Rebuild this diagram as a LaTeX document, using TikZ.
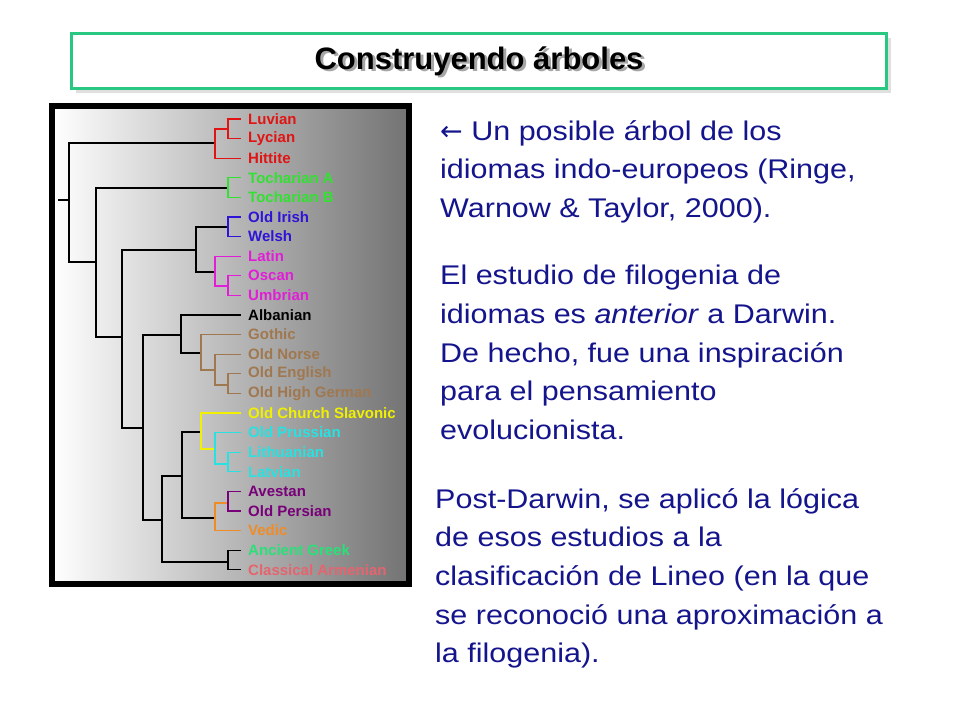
\documentclass[tikz,border=0pt]{standalone}
\usepackage{fontspec}
\setmainfont{Liberation Sans}
\newfontfamily\parafont[FakeStretch=1.13]{Liberation Sans}
\newfontfamily\symfont{DejaVu Sans}
\usetikzlibrary{shadows}

\definecolor{lred}{RGB}{225,20,20}
\definecolor{lgreen}{RGB}{50,225,50}
\definecolor{lblue}{RGB}{45,20,215}
\definecolor{lmag}{RGB}{225,30,215}
\definecolor{lbrown}{RGB}{160,120,80}
\definecolor{lyellow}{RGB}{240,240,0}
\definecolor{lcyan}{RGB}{40,225,225}
\definecolor{lpurple}{RGB}{120,0,120}
\definecolor{lorange}{RGB}{240,140,40}
\definecolor{lsea}{RGB}{40,225,120}
\definecolor{lpink}{RGB}{230,100,110}
\definecolor{titlegreen}{RGB}{40,200,130}
\definecolor{bodyblue}{RGB}{20,20,140}

\tikzset{
  leaf/.style={anchor=west,inner sep=0pt,font=\fontsize{15}{15}\selectfont\bfseries},
  branch/.style={line width=1.2pt},
  para/.style={anchor=north west,align=left,text=bodyblue,inner sep=0pt,
    font=\parafont\fontsize{27}{38.7}\selectfont}
}

\begin{document}
\begin{tikzpicture}[x=1pt,y=-1pt]
  \useasboundingbox (0,0) rectangle (960,720);

  % title box
  \node (title) [draw=titlegreen,line width=2.5pt,fill=white,minimum width=815,minimum height=55,
    drop shadow={shadow xshift=4pt,shadow yshift=-4pt,fill=black!25}] at (479,61) {};
  \node [text=black!35,font=\fontsize{31}{31}\selectfont\bfseries] at (482,63) {Construyendo árboles};
  \node [font=\fontsize{31}{31}\selectfont\bfseries] at (title) {Construyendo árboles};

  % tree panel
  \shade [left color=white,right color=black!55] (52,106) rectangle (409,584);
  \draw [line width=6pt] (52,106) rectangle (409,584);

  % leaves
  \foreach \name/\txt/\col [count=\i from 0] in {
      luv/Luvian/lred, lyc/Lycian/lred, hit/Hittite/lred,
      tca/Tocharian A/lgreen, tcb/Tocharian B/lgreen,
      oir/Old Irish/lblue, wel/Welsh/lblue,
      lat/Latin/lmag, osc/Oscan/lmag, umb/Umbrian/lmag,
      alb/Albanian/black, got/Gothic/lbrown, onr/Old Norse/lbrown,
      oen/Old English/lbrown, ohg/Old High German/lbrown,
      ocs/Old Church Slavonic/lyellow, opr/Old Prussian/lcyan,
      lit/Lithuanian/lcyan, lav/Latvian/lcyan,
      ave/Avestan/lpurple, ope/Old Persian/lpurple, ved/Vedic/lorange,
      agr/Ancient Greek/lsea, arm/Classical Armenian/lpink}
    \node (\name) [leaf,text=\col] at (248,119+19.6*\i) {\txt};

  % inner nodes
  \coordinate (root) at (69,200);   \coordinate (stub) at (58,200);
  \coordinate (anat) at (215,143);  \coordinate (lulyc) at (228,129);
  \coordinate (n2) at (96,262);     \coordinate (toch) at (228,188);
  \coordinate (n3) at (122,337);    \coordinate (ic) at (196,250);
  \coordinate (celt) at (228,227);  \coordinate (ital) at (215,272);
  \coordinate (osum) at (228,286);  \coordinate (n4) at (143,428);
  \coordinate (albg) at (181,335);  \coordinate (germ) at (201,353);
  \coordinate (neh) at (215,370);   \coordinate (eh) at (228,385);
  \coordinate (n5) at (162,520);    \coordinate (bsii) at (182,476);
  \coordinate (bs) at (201,432);    \coordinate (balt) at (215,449);
  \coordinate (ll) at (228,464);    \coordinate (ii) at (215,518);
  \coordinate (ir) at (228,503);    \coordinate (ga) at (228,562);

  \begin{scope}[branch]
    \draw (stub) -- (root);
    \draw (root) |- (anat); \draw (root) |- (n2);
    \draw (n2) |- (toch); \draw (n2) |- (n3);
    \draw (n3) |- (ic); \draw (n3) |- (n4);
    \draw (ic) |- (celt); \draw (ic) |- (ital);
    \draw (n4) |- (albg); \draw (n4) |- (n5);
    \draw (albg) |- ([xshift=-7pt]alb.west); \draw (albg) |- (germ);
    \draw (n5) |- (bsii); \draw (n5) |- (ga);
    \draw (bsii) |- (bs); \draw (bsii) |- (ii);
    \draw (ga) |- ([xshift=-7pt]agr.west); \draw (ga) |- ([xshift=-7pt]arm.west);
    \draw [lred] (anat) |- (lulyc); \draw [lred] (anat) |- ([xshift=-7pt]hit.west);
    \draw [lred] (lulyc) |- ([xshift=-7pt]luv.west); \draw [lred] (lulyc) |- ([xshift=-7pt]lyc.west);
    \draw [lgreen] (toch) |- ([xshift=-7pt]tca.west); \draw [lgreen] (toch) |- ([xshift=-7pt]tcb.west);
    \draw [lblue] (celt) |- ([xshift=-7pt]oir.west); \draw [lblue] (celt) |- ([xshift=-7pt]wel.west);
    \draw [lmag] (ital) |- ([xshift=-7pt]lat.west); \draw [lmag] (ital) |- (osum);
    \draw [lmag] (osum) |- ([xshift=-7pt]osc.west); \draw [lmag] (osum) |- ([xshift=-7pt]umb.west);
    \draw [lbrown] (germ) |- ([xshift=-7pt]got.west); \draw [lbrown] (germ) |- (neh);
    \draw [lbrown] (neh) |- ([xshift=-7pt]onr.west); \draw [lbrown] (neh) |- (eh);
    \draw [lbrown] (eh) |- ([xshift=-7pt]oen.west); \draw [lbrown] (eh) |- ([xshift=-7pt]ohg.west);
    \draw [lyellow] (bs) |- ([xshift=-7pt]ocs.west); \draw [lyellow] (bs) |- (balt);
    \draw [lcyan] (balt) |- ([xshift=-7pt]opr.west); \draw [lcyan] (balt) |- (ll);
    \draw [lcyan] (ll) |- ([xshift=-7pt]lit.west); \draw [lcyan] (ll) |- ([xshift=-7pt]lav.west);
    \draw [lorange] (ii) |- (ir); \draw [lorange] (ii) |- ([xshift=-7pt]ved.west);
    \draw [lpurple] (ir) |- ([xshift=-7pt]ave.west); \draw [lpurple] (ir) |- ([xshift=-7pt]ope.west);
  \end{scope}

  % text
  \node (p1) [para] at (440,120) {{\symfont ←} Un posible árbol de los\\idiomas indo-europeos (Ringe,\\Warnow \& Taylor, 2000).};
  \node (p2) [para] at (440,265) {El estudio de filogenia de\\idiomas es \textit{anterior} a Darwin.\\De hecho, fue una inspiración\\para el pensamiento\\evolucionista.};
  \node (p3) [para] at (435,488) {Post-Darwin, se aplicó la lógica\\de esos estudios a la\\clasificación de Lineo (en la que\\se reconoció una aproximación a\\la filogenia).};
\end{tikzpicture}
\end{document}
